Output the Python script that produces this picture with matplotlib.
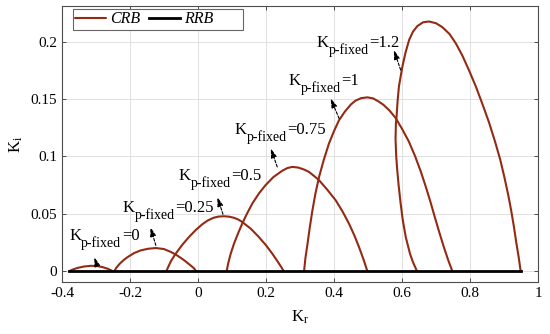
import matplotlib
matplotlib.use("Agg")
import matplotlib.pyplot as plt
from matplotlib.transforms import offset_copy

plt.rcParams['font.family'] = ['Liberation Serif', 'DejaVu Serif']
plt.rcParams['mathtext.fontset'] = 'custom'
plt.rcParams['mathtext.rm'] = 'Liberation Serif'
plt.rcParams['mathtext.it'] = 'Liberation Serif:italic'

# ---- data ----
kp_values = ["0", "0.25", "0.5", "0.75", "1", "1.2"]

crb_x_kp0 = [-0.378, -0.370, -0.354, -0.335, -0.315, -0.297, -0.280, -0.265, -0.251]
crb_y_kp0 = [0.0, 0.0012, 0.0028, 0.0040, 0.0046, 0.0044, 0.0034, 0.0020, 0.0]

crb_x_kp025 = [-0.246, -0.240, -0.230, -0.218, -0.207, -0.188, -0.168, -0.146, -0.124, -0.100,
               -0.079, -0.060, -0.040, -0.022, -0.012, -0.006]
crb_y_kp025 = [0.0, 0.0030, 0.0065, 0.0098, 0.0122, 0.0157, 0.0181, 0.0195, 0.0201, 0.0192,
               0.0166, 0.0134, 0.0093, 0.0050, 0.0025, 0.0]

crb_x_kp05 = [-0.093, -0.087, -0.079, -0.0656, -0.046, -0.0265, -0.007, 0.0126, 0.028, 0.045, 0.060,
              0.0765, 0.092, 0.105, 0.118, 0.130, 0.155, 0.179, 0.200, 0.2185, 0.235, 0.246, 0.252]
crb_y_kp05 = [0.0, 0.0040, 0.0090, 0.0152, 0.0230, 0.0297, 0.0357, 0.0408, 0.0440, 0.0464, 0.0475,
              0.0478, 0.0474, 0.0465, 0.0450, 0.0428, 0.0370, 0.0297, 0.0225, 0.0152, 0.0080, 0.0030, 0.0]

crb_x_kp075 = [0.0843, 0.089, 0.096, 0.106, 0.118, 0.131, 0.144, 0.160, 0.180, 0.199, 0.222, 0.248,
               0.263, 0.277, 0.295, 0.312, 0.326, 0.341, 0.356, 0.380, 0.405, 0.425, 0.444, 0.460,
               0.4735, 0.487, 0.498]
crb_y_kp075 = [0.0, 0.007, 0.015, 0.024, 0.033, 0.042, 0.050, 0.059, 0.068, 0.075, 0.082, 0.0875,
               0.0898, 0.0908, 0.0902, 0.0885, 0.0865, 0.0830, 0.0792, 0.071, 0.0617, 0.052, 0.0414,
               0.031, 0.021, 0.010, 0.0]

crb_x_kp1 = [0.312, 0.316, 0.322, 0.328, 0.336, 0.345, 0.356, 0.370, 0.385, 0.400, 0.415, 0.432,
             0.449, 0.463, 0.480, 0.498, 0.515, 0.530, 0.545, 0.563, 0.581, 0.600, 0.620, 0.638,
             0.655, 0.670, 0.684, 0.697, 0.710, 0.723, 0.736, 0.748]
crb_y_kp1 = [0.0, 0.0115, 0.0235, 0.0365, 0.052, 0.067, 0.082, 0.097, 0.111, 0.122, 0.1316, 0.139,
             0.145, 0.1485, 0.1507, 0.1514, 0.1505, 0.148, 0.145, 0.140, 0.1335, 0.124, 0.113, 0.1005,
             0.087, 0.0735, 0.060, 0.0465, 0.0335, 0.021, 0.0095, 0.0]

crb_x_kp12 = [0.644, 0.632, 0.6235, 0.611, 0.602, 0.596, 0.590, 0.586, 0.583, 0.581, 0.582, 0.584,
              0.587, 0.591, 0.601, 0.610, 0.621, 0.632, 0.645, 0.662, 0.679, 0.700, 0.719, 0.740,
              0.758, 0.778, 0.797, 0.817, 0.836, 0.856, 0.874, 0.889, 0.901, 0.912, 0.921, 0.929,
              0.936, 0.943, 0.949]
crb_y_kp12 = [0.0, 0.008, 0.0152, 0.0297, 0.045, 0.0589, 0.075, 0.088, 0.100, 0.115, 0.128, 0.1345,
              0.148, 0.161, 0.178, 0.190, 0.2015, 0.2085, 0.2135, 0.2168, 0.2175, 0.2160, 0.2125, 0.2065,
              0.1986, 0.1875, 0.175, 0.161, 0.146, 0.1295, 0.1125, 0.097, 0.082, 0.067, 0.053, 0.039,
              0.025, 0.0125, 0.0]

crb_x = [crb_x_kp0, crb_x_kp025, crb_x_kp05, crb_x_kp075, crb_x_kp1, crb_x_kp12]
crb_y = [crb_y_kp0, crb_y_kp025, crb_y_kp05, crb_y_kp075, crb_y_kp1, crb_y_kp12]

# real-root boundary (Ki = 0) extents
rrb_x = [-0.378, 0.949]
rrb_y = [0.0, 0.0]

# label anchors (K left, baseline) and arrow (head, tail)
label_x = [-0.379, -0.2206, -0.0559, 0.1088, 0.2676, 0.350]
label_y = [0.0268, 0.0512, 0.0792, 0.1194, 0.1622, 0.1954]
arrow_head_x = [-0.305, -0.140, 0.0568, 0.214, 0.390, 0.576]
arrow_head_y = [0.0122, 0.0384, 0.0646, 0.107, 0.1506, 0.1927]
arrow_tail_x = [-0.297, -0.124, 0.0735, 0.233, 0.415, 0.596]
arrow_tail_y = [0.005, 0.0224, 0.0495, 0.0908, 0.133, 0.1753]

xticks = [-0.4, -0.2, 0, 0.2, 0.4, 0.6, 0.8, 1]
xticklabels = ["-0.4", "-0.2", "0", "0.2", "0.4", "0.6", "0.8", "1"]
yticks = [0, 0.05, 0.1, 0.15, 0.2]
yticklabels = ["0", "0.05", "0.1", "0.15", "0.2"]

CRB_COLOR = '#932B14'

fig = plt.figure(figsize=(5.5, 3.34), dpi=100)
ax = fig.add_axes([62 / 550, 1 - 282 / 334, 476 / 550, 276 / 334])

for i, (xs, ys) in enumerate(zip(crb_x, crb_y)):
    ax.plot(xs, ys, color=CRB_COLOR, lw=1.5, label='CRB' if i == 0 else None, zorder=3,
            solid_joinstyle='round', solid_capstyle='round')
ax.plot(rrb_x, rrb_y, color='black', lw=2.0, label='RRB' + ' ' * 7, zorder=4)

ax.set_xlim(-0.4, 1.0)
ax.set_ylim(-0.0095, 0.231)
ax.set_xticks(xticks)
ax.set_xticklabels(xticklabels)
ax.set_yticks(yticks)
ax.set_yticklabels(yticklabels)
ax.tick_params(direction='in', top=True, right=True, labelsize=11, length=3, width=0.6,
               colors='#333333', labelcolor='black')
ax.grid(True, color='#DCDCDC', lw=0.6)
ax.set_axisbelow(True)
for s in ax.spines.values():
    s.set_color('#4D4D4D')
    s.set_linewidth(0.8)

ax.set_xlabel(r'K$_\mathrm{r}$', fontsize=12, labelpad=6)
ax.set_ylabel(r'K$_\mathrm{i}$', fontsize=12, labelpad=4)

leg = ax.legend(loc='upper left', bbox_to_anchor=(11 / 476, 1 - 3 / 276), borderaxespad=0,
                ncol=2, frameon=True, fancybox=False, edgecolor='#666666', framealpha=1,
                borderpad=0.15, handlelength=1.9, handletextpad=0.25, columnspacing=0.6,
                prop={'family': 'Liberation Serif', 'style': 'italic', 'size': 11.5})
leg.get_frame().set_linewidth(0.8)

# labels built in pieces: K, lowered subscript, value
fig.canvas.draw()
renderer = fig.canvas.get_renderer()
for i in range(len(kp_values)):
    t1 = ax.text(label_x[i], label_y[i], 'K', fontsize=12, ha='left', va='baseline', zorder=6)
    w1 = t1.get_window_extent(renderer).width * 72 / fig.dpi
    tr2 = offset_copy(ax.transData, fig=fig, x=w1, y=-5.0, units='points')
    t2 = ax.text(label_x[i], label_y[i], 'p-fixed', fontsize=10, ha='left', va='baseline',
                 transform=tr2, zorder=6)
    w2 = t2.get_window_extent(renderer).width * 72 / fig.dpi
    tr3 = offset_copy(ax.transData, fig=fig, x=w1 + w2 + 0.3, y=0, units='points')
    ax.text(label_x[i], label_y[i], '=' + kp_values[i], fontsize=12, ha='left', va='baseline',
            transform=tr3, zorder=6)
    ax.annotate('', xy=(arrow_head_x[i], arrow_head_y[i]),
                xytext=(arrow_tail_x[i], arrow_tail_y[i]),
                arrowprops=dict(arrowstyle='-|>,head_length=0.55,head_width=0.17', color='black',
                                lw=0.8, linestyle=(0, (2.5, 1.5)), shrinkA=0, shrinkB=0),
                zorder=6)

fig.savefig('out.png', dpi=100)
